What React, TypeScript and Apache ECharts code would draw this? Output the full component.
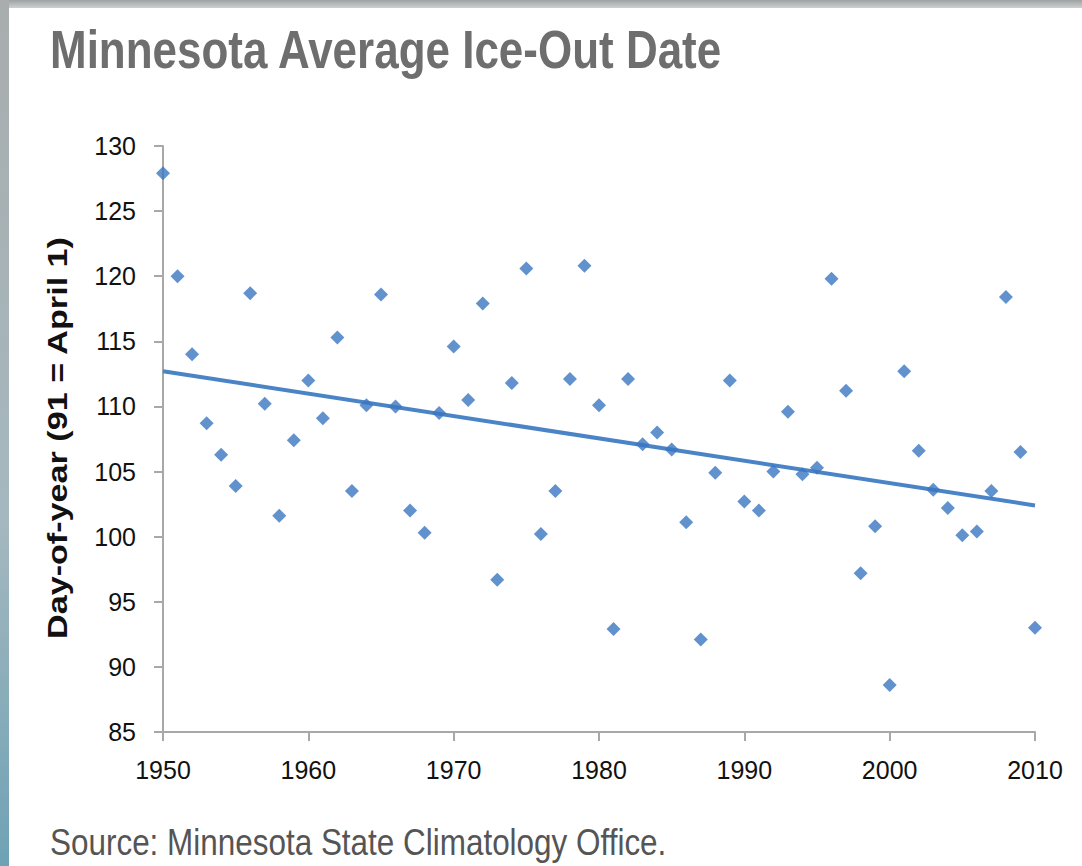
import React, { useEffect, useRef } from "react";
import * as echarts from "echarts";

const titleText = "Minnesota Average Ice-Out Date";
const yAxisTitle = "Day-of-year (91 = April 1)";
const sourceText = "Source: Minnesota State Climatology Office.";

const years = [
  1950, 1951, 1952, 1953, 1954, 1955, 1956, 1957, 1958, 1959,
  1960, 1961, 1962, 1963, 1964, 1965, 1966, 1967, 1968, 1969,
  1970, 1971, 1972, 1973, 1974, 1975, 1976, 1977, 1978, 1979,
  1980, 1981, 1982, 1983, 1984, 1985, 1986, 1987, 1988, 1989,
  1990, 1991, 1992, 1993, 1994, 1995, 1996, 1997, 1998, 1999,
  2000, 2001, 2002, 2003, 2004, 2005, 2006, 2007, 2008, 2009,
  2010,
];

const iceOutDay = [
  127.9, 120.0, 114.0, 108.7, 106.3, 103.9, 118.7, 110.2, 101.6, 107.4,
  112.0, 109.1, 115.3, 103.5, 110.1, 118.6, 110.0, 102.0, 100.3, 109.5,
  114.6, 110.5, 117.9, 96.7, 111.8, 120.6, 100.2, 103.5, 112.1, 120.8,
  110.1, 92.9, 112.1, 107.1, 108.0, 106.7, 101.1, 92.1, 104.9, 112.0,
  102.7, 102.0, 105.0, 109.6, 104.8, 105.3, 119.8, 111.2, 97.2, 100.8,
  88.6, 112.7, 106.6, 103.6, 102.2, 100.1, 100.4, 103.5, 118.4, 106.5,
  93.0,
];

const trendYears = [1950, 2010];
const trendValues = [112.7, 102.4];

export default function App() {
  const ref = useRef<HTMLDivElement>(null);

  useEffect(() => {
    document.body.style.margin = "0";
    const chart = echarts.init(ref.current!, null, { renderer: "svg" });
    const points = years.map((y, i) => [y, iceOutDay[i]]);
    const trend = trendYears.map((y, i) => [y, trendValues[i]]);
    const axisGray = "#a8a8a8";
    const sans = "'Liberation Sans', Arial, sans-serif";

    chart.setOption({
      animation: false,
      backgroundColor: "#ffffff",
      grid: { left: 163, right: 47, top: 146, bottom: 134 },
      xAxis: {
        type: "value",
        min: 1950,
        max: 2010,
        interval: 10,
        splitLine: { show: false },
        axisLine: { show: true, lineStyle: { color: axisGray, width: 2 } },
        axisTick: { show: true, length: 9, lineStyle: { color: axisGray, width: 2 } },
        axisLabel: {
          margin: 25,
          formatter: (v: number) => String(v),
          fontFamily: sans,
          fontSize: 25,
          color: "#111111",
        },
      },
      yAxis: {
        type: "value",
        min: 85,
        max: 130,
        interval: 5,
        splitLine: { show: false },
        axisLine: { show: true, lineStyle: { color: axisGray, width: 2 } },
        axisTick: { show: true, length: 9, lineStyle: { color: axisGray, width: 2 } },
        axisLabel: {
          margin: 27,
          fontFamily: sans,
          fontSize: 25,
          color: "#111111",
        },
      },
      graphic: [
        {
          type: "rect",
          shape: { x: 0, y: 0, width: 1082, height: 8 },
          style: {
            fill: new echarts.graphic.LinearGradient(0, 0, 0, 1, [
              { offset: 0, color: "#9da2a2" },
              { offset: 1, color: "#cdd0d0" },
            ]),
          },
          silent: true,
        },
        {
          type: "rect",
          shape: { x: 0, y: 0, width: 9, height: 866 },
          style: {
            fill: new echarts.graphic.LinearGradient(0, 0, 0, 1, [
              { offset: 0, color: "#a9adae" },
              { offset: 0.6, color: "#a5b8bf" },
              { offset: 1, color: "#6fa2b5" },
            ]),
          },
          silent: true,
        },
        {
          type: "text",
          x: 50,
          y: 23,
          scaleX: 0.83,
          style: {
            text: titleText,
            fontFamily: sans,
            fontWeight: "bold",
            fontSize: 53,
            fill: "#6e6e6e",
            align: "left",
            verticalAlign: "top",
          },
        },
        {
          type: "text",
          x: 58,
          y: 438,
          rotation: Math.PI / 2,
          scaleX: 1.22,
          style: {
            text: yAxisTitle,
            fontFamily: sans,
            fontWeight: "bold",
            fontSize: 28,
            fill: "#111111",
            align: "center",
            verticalAlign: "middle",
          },
        },
        {
          type: "text",
          x: 50,
          y: 824,
          scaleX: 0.85,
          style: {
            text: sourceText,
            fontFamily: sans,
            fontSize: 37,
            fill: "#555555",
            align: "left",
            verticalAlign: "top",
          },
        },
      ],
      series: [
        {
          type: "line",
          data: trend,
          symbol: "none",
          lineStyle: { color: "#4a84c7", width: 4 },
          z: 2,
        },
        {
          type: "scatter",
          data: points,
          symbol: "diamond",
          symbolSize: 14,
          itemStyle: { color: "#3a77c0" },
          z: 3,
        },
      ],
    });

    return () => chart.dispose();
  }, []);

  return <div ref={ref} style={{ width: 1082, height: 866 }} />;
}
